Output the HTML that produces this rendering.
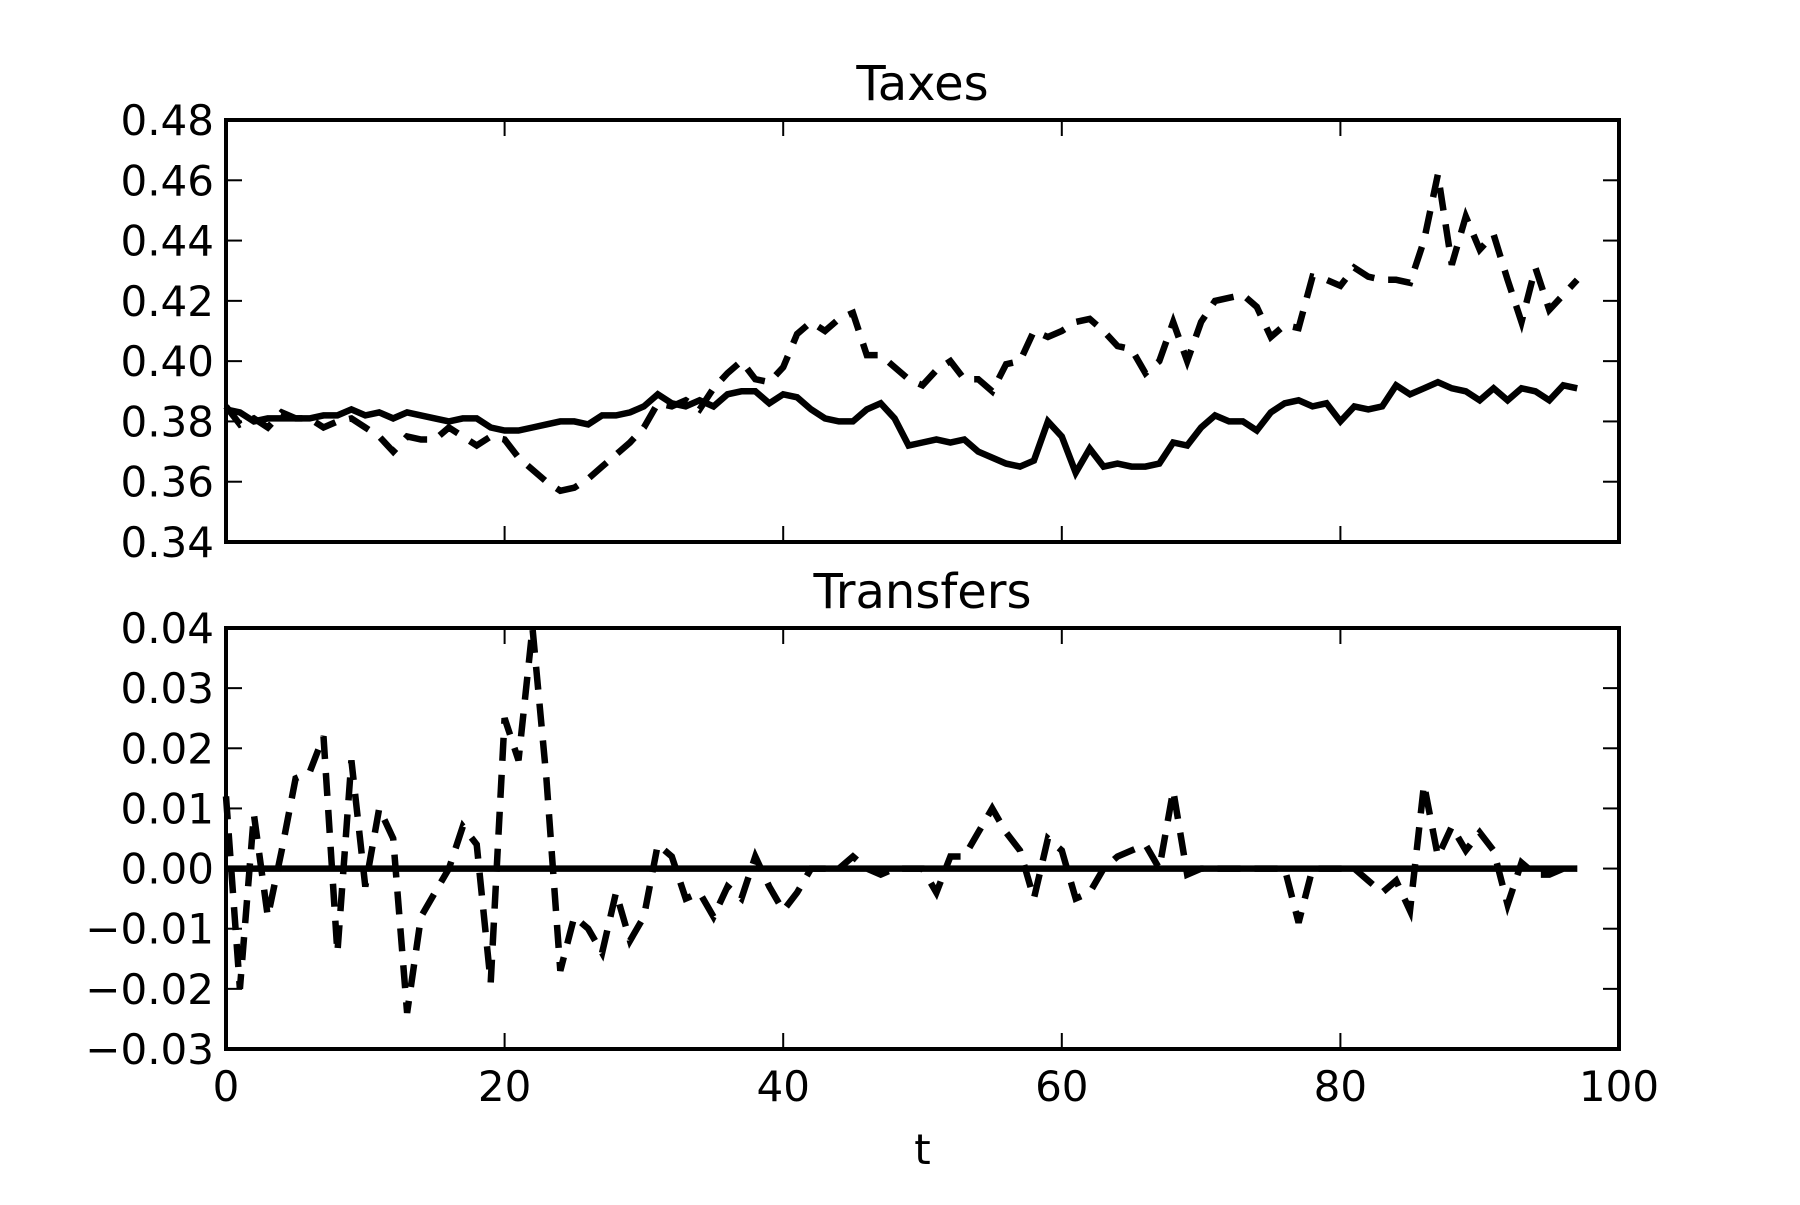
<!DOCTYPE html>
<html><head><meta charset="utf-8"><style>
html,body{margin:0;padding:0;background:#fff;}
svg text{font-family:"DejaVu Sans","Liberation Sans",sans-serif;fill:#000;}
</style></head><body>
<svg id="chart" width="1800" height="1200" viewBox="0 0 1800 1200" xmlns="http://www.w3.org/2000/svg"></svg>
<script>
const taxesSolid=[.384,.383,.380,.381,.381,.381,.381,.382,.382,.384,.382,.383,.381,.383,.382,.381,.380,.381,.381,.378,.377,.377,.378,.379,.380,.380,.379,.382,.382,.383,.385,.389,.386,.385,.387,.385,.389,.390,.390,.386,.389,.388,.384,.381,.380,.380,.384,.386,.381,.372,.373,.374,.373,.374,.370,.368,.366,.365,.367,.380,.375,.363,.371,.365,.366,.365,.365,.366,.373,.372,.378,.382,.380,.380,.377,.383,.386,.387,.385,.386,.380,.385,.384,.385,.392,.389,.391,.393,.391,.390,.387,.391,.387,.391,.390,.387,.392,.391];
const taxesDashed=[.385,.379,.381,.378,.383,.381,.381,.378,.380,.381,.378,.375,.370,.375,.374,.374,.378,.375,.372,.375,.374,.368,.364,.360,.357,.358,.361,.365,.369,.373,.378,.386,.385,.387,.384,.391,.396,.400,.394,.393,.398,.409,.413,.410,.414,.416,.402,.402,.398,.394,.392,.397,.400,.394,.394,.390,.399,.400,.410,.408,.410,.413,.414,.410,.405,.404,.396,.400,.413,.400,.413,.420,.421,.422,.418,.408,.412,.411,.428,.427,.425,.431,.428,.427,.427,.426,.440,.462,.432,.448,.437,.442,.427,.413,.431,.417,.422,.427];
const transfersDashed=[.012,-.02,.009,-.008,.003,.015,.016,.022,-.014,.018,-.003,.010,.005,-.024,-.008,-.004,.000,.007,.004,-.019,.025,.018,.040,.015,-.017,-.008,-.010,-.014,-.004,-.012,-.008,.004,.002,-.005,-.004,-.008,-.003,-.005,.002,-.003,-.007,-.004,.000,.000,.000,.002,.000,-.001,.000,.000,.000,-.004,.002,.002,.006,.010,.006,.003,-.005,.005,.003,-.005,-.004,.000,.002,.003,.004,.000,.013,-.001,.000,.000,.000,.000,.000,.000,.000,-.009,.000,.000,.000,.000,-.002,-.004,-.002,-.007,.014,.002,.007,.003,.006,.003,-.006,.001,-.001,-.001,.000,.000];
const transfersSolid=transfersDashed.map(()=>0);
const xTicks=[0,20,40,60,80,100];
const taxYTicks=[0.34,0.36,0.38,0.40,0.42,0.44,0.46,0.48];
const trYTicks=[-0.03,-0.02,-0.01,0.00,0.01,0.02,0.03,0.04];
const trYLabels=["\u22120.03","\u22120.02","\u22120.01","0.00","0.01","0.02","0.03","0.04"];

const NS="http://www.w3.org/2000/svg";
const svg=document.getElementById('chart');
const L=226,R=1619;
const xs=v=>L+(v-0)/(100-0)*(R-L);
function mk(tag,attrs,parent){const e=document.createElementNS(NS,tag);for(const k in attrs)e.setAttribute(k,attrs[k]);(parent||svg).appendChild(e);return e;}

function panel(name,top,bottom,ymin,ymax,yticks,ylabels,series,title,showX){
  const g=mk('g',{});
  
  
  const ys=v=>bottom-(v-ymin)/(ymax-ymin)*(bottom-top);
  const t=mk('text',{x:(L+R)/2,y:top-20,'font-size':48,'text-anchor':'middle'},g);
  t.textContent=title;
  
  
  series.forEach(s=>{
    const d=s.vals.map((v,i)=>(i?'L':'M')+xs(i).toFixed(1)+','+ys(v).toFixed(1)).join('');
    const p=mk('path',{d:d,fill:'none',stroke:'#000','stroke-width':6.5,'stroke-linejoin':'miter'},g);
    if(s.dash)p.setAttribute('stroke-dasharray','23,14');
    
    
  });
  yticks.forEach((v,i)=>{
    const y=ys(v);
    mk('line',{x1:L,x2:L+16,y1:y,y2:y,stroke:'#000','stroke-width':2},g);
    mk('line',{x1:R-16,x2:R,y1:y,y2:y,stroke:'#000','stroke-width':2},g);
    const tl=mk('text',{x:L-12,y:y+15,'font-size':42,'text-anchor':'end'},g);
    tl.textContent=ylabels?ylabels[i]:v.toFixed(2);
    
    
  });
  xTicks.forEach(v=>{
    const x=xs(v);
    mk('line',{x1:x,x2:x,y1:bottom,y2:bottom-16,stroke:'#000','stroke-width':2},g);
    mk('line',{x1:x,x2:x,y1:top,y2:top+16,stroke:'#000','stroke-width':2},g);
    if(showX){
      const tl=mk('text',{x:x,y:bottom+52,'font-size':42,'text-anchor':'middle'},g);
      tl.textContent=String(v);
      
      
    }
  });
  const f=mk('rect',{x:L,y:top,width:R-L,height:bottom-top,fill:'none',stroke:'#000','stroke-width':4},g);
  
  
}
panel('taxes',120,542,0.34,0.48,taxYTicks,null,[
  {vals:taxesSolid,dash:false,name:'taxes-solid-line'},
  {vals:taxesDashed,dash:true,name:'taxes-dashed-line'}],'Taxes',false);
panel('transfers',628,1049,-0.03,0.04,trYTicks,trYLabels,[
  {vals:transfersSolid,dash:false,name:'transfers-solid-line'},
  {vals:transfersDashed,dash:true,name:'transfers-dashed-line'}],'Transfers',true);
const xl=mk('text',{x:(L+R)/2,y:1164,'font-size':42,'text-anchor':'middle'});
xl.textContent='t';


</script>
</body></html>
